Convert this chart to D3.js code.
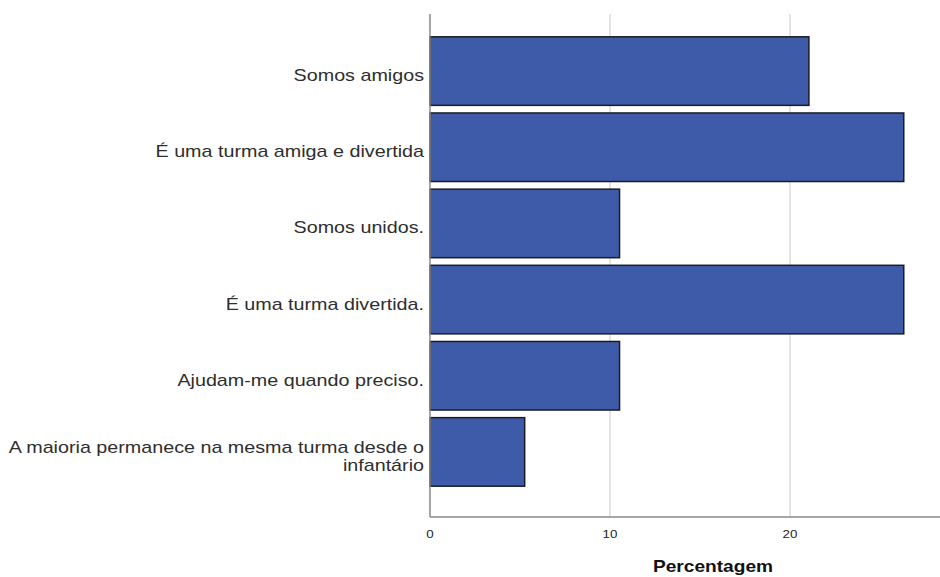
<!DOCTYPE html>
<html><head><meta charset="utf-8">
<script src="https://cdn.jsdelivr.net/npm/d3@7"></script>
<style>body{margin:0;background:#fff}svg{display:block}</style>
</head><body>
<script>
const categories = ["Somos amigos","É uma turma amiga e divertida","Somos unidos.","É uma turma divertida.","Ajudam-me quando preciso.","A maioria permanece na mesma turma desde o infantário"];
const labelLines = [["Somos amigos"],["É uma turma amiga e divertida"],["Somos unidos."],["É uma turma divertida."],["Ajudam-me quando preciso."],["A maioria permanece na mesma turma desde o","infantário"]];
const values = [21.05, 26.32, 10.53, 26.32, 10.53, 5.26];
const ticks = [0, 10, 20];
const axisTitle = "Percentagem";

(function(){
const W = 940, H = 577;
const SX = 1.16; // horizontal stretch of the original text rendering
const svg = d3.select("body").append("svg").attr("width", W).attr("height", H);
const x = d3.scaleLinear().domain([0, 28.333]).range([430, 940]);
const y = d3.scaleBand().domain(categories).range([33, 490]).paddingInner(0.1).paddingOuter(0.05);
const yTop = 14, yBottom = 517;
const FONT = "Liberation Sans, Arial, sans-serif";

// gridlines
svg.append("g").selectAll("line").data(ticks.filter(t => t > 0)).join("line")
  .attr("x1", d => x(d)).attr("x2", d => x(d)).attr("y1", yTop).attr("y2", yBottom)
  .attr("stroke", "#c9c9c9").attr("stroke-width", 1);

// bars
svg.append("g").selectAll("rect").data(values).join("rect")
  .attr("x", x(0)).attr("y", (d, i) => y(categories[i]))
  .attr("width", d => x(d) - x(0)).attr("height", y.bandwidth())
  .attr("fill", "#3e5ba9").attr("stroke", "#1b1b24").attr("stroke-width", 1.5);

// axes lines
svg.append("line").attr("x1", x(0)).attr("x2", x(0)).attr("y1", yTop).attr("y2", yBottom)
  .attr("stroke", "#8a8a8a").attr("stroke-width", 1.5);
svg.append("line").attr("x1", x(0)).attr("x2", W).attr("y1", yBottom).attr("y2", yBottom)
  .attr("stroke", "#8a8a8a").attr("stroke-width", 1.5);

// x tick labels
svg.append("g").selectAll("text").data(ticks).join("text")
  .attr("transform", d => `translate(${x(d)},538) scale(${SX},1)`)
  .attr("text-anchor", "middle")
  .attr("font-family", FONT).attr("font-size", 11.5).attr("fill", "#222")
  .text(d => d);

// axis title
svg.append("text").attr("transform", `translate(713,572) scale(${SX},1)`).attr("text-anchor", "middle")
  .attr("font-family", FONT).attr("font-size", 16.5).attr("font-weight", "bold")
  .attr("fill", "#111")
  .text(axisTitle);

// category labels
const lg = svg.append("g").attr("font-family", FONT).attr("font-size", 17).attr("fill", "#2e2e2e");
categories.forEach((c, i) => {
  const lines = labelLines[i];
  const cy = y(c) + y.bandwidth() / 2;
  const lh = 18;
  const t = lg.append("text").attr("text-anchor", "end")
    .attr("transform", `translate(424,${cy}) scale(${SX},1)`);
  lines.forEach((ln, j) => {
    t.append("tspan").attr("x", 0).attr("y", (j - (lines.length - 1) / 2) * lh + 10).text(ln);
  });
});
})();
</script>
</body></html>
